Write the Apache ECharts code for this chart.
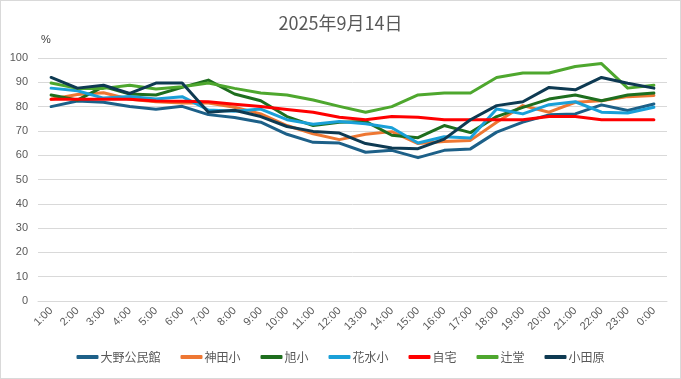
<!DOCTYPE html>
<html><head><meta charset="utf-8">
<script src="https://cdn.jsdelivr.net/npm/echarts@6/dist/echarts.min.js"></script>
<style>
html,body{margin:0;padding:0;background:#fff;}
#c{width:681px;height:379px;box-sizing:border-box;border:1px solid #d9d9d9;}
</style></head>
<body><div id="c"></div>
<script>
const categories = ['1:00','2:00','3:00','4:00','5:00','6:00','7:00','8:00','9:00','10:00','11:00','12:00','13:00','14:00','15:00','16:00','17:00','18:00','19:00','20:00','21:00','22:00','23:00','0:00'];
const ohno     = [80,82.3,81.8,80,78.9,80.1,76.7,75.5,73.6,68.6,65.3,65,61.2,62,59,62,62.6,69.5,73.6,76.6,77,80.7,78.4,81.1];
const kanda    = [83,85,85.7,83,82,81.5,81.5,79.7,77,72.2,68.8,66.4,68.6,69.7,64.8,65.6,66.1,73.6,80.4,77.7,81.8,82.4,84.1,84.6];
const asahi    = [84.8,82.7,88.2,85.2,84.8,87.9,90.9,85.2,82.4,75.9,72.2,73.6,73.9,68.2,67.2,72.2,69.3,75.9,79.7,83.1,84.8,82.4,84.8,85.6];
const hanamizu = [87.6,86.5,83.5,84.2,83.1,84.1,78.6,78.1,79,74.6,72.7,73.9,72.9,71.3,65,67.6,67.1,79,77,80.8,82,77.7,77.4,79.7];
const jitaku   = [83,83,83,83,82.3,82.2,82,81,80,78.8,77.7,75.6,74.6,75.9,75.6,74.6,74.6,74.6,74.6,75.9,75.9,74.6,74.6,74.6];
const tsujido  = [89.7,87.5,87.5,88.8,87.2,88.2,89.7,87.5,85.6,84.8,82.7,80.1,77.7,80,84.8,85.6,85.6,92,93.8,93.8,96.5,97.7,87.6,88.8];
const odawara  = [92,87.6,88.8,85.4,89.7,89.7,77.7,78.5,75.9,71.8,69.8,69.1,64.8,63,62.7,66.6,74.6,80.4,82,87.9,86.9,92,89.6,87.6];
const yTicks = [0,10,20,30,40,50,60,70,80,90,100];

const names = ['大野公民館','神田小','旭小','花水小','自宅','辻堂','小田原'];
const colors = ['#1d6088','#ee7733','#1e6e1e','#1aa0d8','#ff0000','#4ea72e','#0e3a52'];
const datas = [ohno,kanda,asahi,hanamizu,jitaku,tsujido,odawara];

const chart = echarts.init(document.getElementById('c'));
chart.setOption({
  animation:false,
  title:{text:'2025年9月14日',left:'center',top:8,textStyle:{fontFamily:'Noto Sans CJK JP',fontSize:18,fontWeight:'normal',color:'#595959'}},
  graphic:[{type:'text',left:40,top:33,style:{text:'%',fontFamily:'Liberation Sans',fontSize:11,fill:'#404040'}}],
  grid:{left:37,right:13,top:57,bottom:77},
  xAxis:{type:'category',data:categories,boundaryGap:true,
    axisLine:{lineStyle:{color:'#d9d9d9'}},axisTick:{show:false},
    axisLabel:{rotate:45,color:'#595959',fontSize:11,fontFamily:'Liberation Sans',interval:0,margin:8}},
  yAxis:{type:'value',min:0,max:100,interval:10,
    axisLine:{show:false},axisTick:{show:false},
    splitLine:{lineStyle:{color:'#d9d9d9'}},
    axisLabel:{color:'#595959',fontSize:11,fontFamily:'Liberation Sans',margin:10,
      formatter:function(v){return yTicks.indexOf(v)>=0?String(v):'';}}},
  legend:{bottom:10,left:'center',itemWidth:22,itemHeight:4,itemGap:20,icon:'roundRect',
    textStyle:{color:'#595959',fontSize:12,fontFamily:'Noto Sans CJK JP',padding:[0,0,0,-3]},
    data:names},
  series:names.map((n,i)=>({name:n,type:'line',data:datas[i],symbol:'none',
    lineStyle:{width:3,color:colors[i],cap:'round',join:'round'},itemStyle:{color:colors[i]}}))
});
</script></body></html>
